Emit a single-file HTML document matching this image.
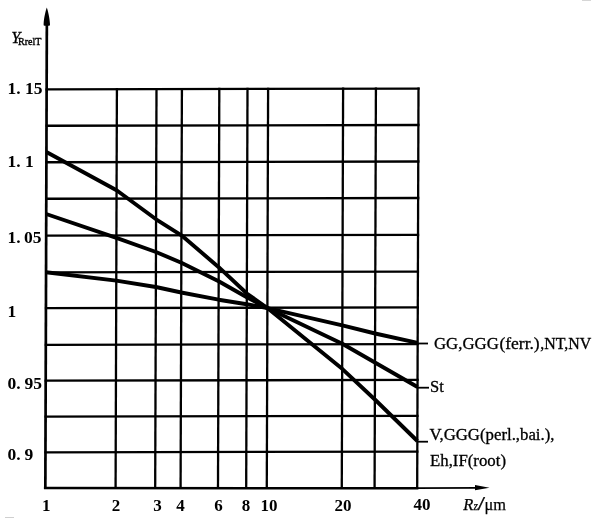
<!DOCTYPE html>
<html><head><meta charset="utf-8"><title>Chart</title>
<style>
html,body{margin:0;padding:0;background:#fff;}
svg{display:block;}
text{font-family:"Liberation Serif",serif;fill:#000;}
.n{font-weight:bold;font-size:17px;}
.l{font-size:16.5px;stroke:#000;stroke-width:0.3px;}
</style></head><body>
<svg width="600" height="518" viewBox="0 0 600 518">
<rect width="600" height="518" fill="#fff"/>
<g transform="matrix(1,-0.002,-0.0033,1,1.6,0.14)" stroke="#000" stroke-width="2.3" fill="none" stroke-linecap="butt">
<line x1="44.3" y1="89.3" x2="418.34999999999997" y2="89.3"/>
<line x1="44.3" y1="125.7" x2="418.34999999999997" y2="125.7"/>
<line x1="44.3" y1="162.2" x2="418.34999999999997" y2="162.2"/>
<line x1="44.3" y1="198.7" x2="418.34999999999997" y2="198.7"/>
<line x1="44.3" y1="235.5" x2="418.34999999999997" y2="235.5"/>
<line x1="44.3" y1="272.3" x2="418.34999999999997" y2="272.3"/>
<line x1="44.3" y1="308.1" x2="418.34999999999997" y2="308.1"/>
<line x1="44.3" y1="344.8" x2="418.34999999999997" y2="344.8"/>
<line x1="44.3" y1="380.6" x2="418.34999999999997" y2="380.6"/>
<line x1="44.3" y1="416.5" x2="418.34999999999997" y2="416.5"/>
<line x1="44.3" y1="452.3" x2="418.34999999999997" y2="452.3"/>
<line x1="115.6" y1="88.14999999999999" x2="115.6" y2="488.3"/>
<line x1="155.2" y1="88.14999999999999" x2="155.2" y2="488.3"/>
<line x1="180.6" y1="88.14999999999999" x2="180.6" y2="488.3"/>
<line x1="218.0" y1="88.14999999999999" x2="218.0" y2="488.3"/>
<line x1="246.2" y1="88.14999999999999" x2="246.2" y2="488.3"/>
<line x1="266.8" y1="88.14999999999999" x2="266.8" y2="488.3"/>
<line x1="341.8" y1="88.14999999999999" x2="341.8" y2="488.3"/>
<line x1="374.6" y1="88.14999999999999" x2="374.6" y2="488.3"/>
<line x1="417.2" y1="88.14999999999999" x2="417.2" y2="488.3"/>
</g>
<line x1="43.9" y1="488.1" x2="418.4" y2="488.2" stroke="#000" stroke-width="2.5"/>
<line x1="417" y1="488.1" x2="477" y2="487.8" stroke="#000" stroke-width="1.7"/>
<line x1="46.85" y1="22" x2="45.35" y2="488.8" stroke="#000" stroke-width="2.7"/>
<path d="M46.8,7.6 C47.8,10 49.7,18 50,24.5 Q50,25.7 49,25.7 L44.6,25.7 Q43.5,25.7 43.6,24.5 C43.9,18 45.8,10 46.8,7.6 Z" fill="#000"/>
<polygon points="489.5,487.7 475,485.1 475,490.3" fill="#000"/>
<g stroke="#000" stroke-width="3.9" fill="none" stroke-linejoin="round">
<polyline points="46.4,152 116.57,190.3 156.08,219.3 181.42,235.3 218.72,267.2 246.83,293.5 267.38,308.1 342.18,368.8 374.88,399.5 417.35,441"/>
<line x1="417.35" y1="441.7" x2="428" y2="441.7" stroke-width="1.8"/>
<polyline points="46.19,214 116.42,237.8 155.97,252 181.33,262.7 218.67,281.3 246.82,297.3 267.38,308.1 342.27,343.8 417.52,387"/>
<line x1="417.52" y1="387.7" x2="429" y2="387.7" stroke-width="1.8"/>
<polyline points="46.0,272.3 116.27,280.6 155.85,287 181.24,292.5 218.61,299.7 246.8,304.2 267.38,308.1 342.33,325.4 375.1,333.5 417.67,342.8"/>
<line x1="417.67" y1="343.5" x2="428" y2="343.5" stroke-width="1.8"/>
</g>
<text class="n" style="font-size:17.5px" x="7.5" y="94.0">1.</text><text class="n" style="font-size:17.5px" x="25" y="94.0">15</text>
<text class="n" style="font-size:17.5px" x="7.5" y="166.5">1.</text><text class="n" style="font-size:17.5px" x="25" y="166.5">1</text>
<text class="n" style="font-size:17.5px" x="7.5" y="242.5">1.</text><text class="n" style="font-size:17.5px" x="24" y="242.5">05</text>
<text class="n" style="font-size:17.5px" x="7.5" y="316.5">1</text>
<text class="n" style="font-size:17.5px" x="7.5" y="388.5">0.</text><text class="n" style="font-size:17.5px" x="24.4" y="388.5">95</text>
<text class="n" style="font-size:17.5px" x="7.5" y="460.0">0.</text><text class="n" style="font-size:17.5px" x="24.4" y="460.0">9</text>
<text class="n" x="46.2" y="510.8" text-anchor="middle">1</text>
<text class="n" x="116" y="510.8" text-anchor="middle">2</text>
<text class="n" x="157.5" y="510.8" text-anchor="middle">3</text>
<text class="n" x="180.6" y="510.8" text-anchor="middle">4</text>
<text class="n" x="218.5" y="510.8" text-anchor="middle">6</text>
<text class="n" x="246" y="510.8" text-anchor="middle">8</text>
<text class="n" x="269" y="510.8" text-anchor="middle">10</text>
<text class="n" x="343" y="510.8" text-anchor="middle">20</text>
<text class="n" x="422" y="510" text-anchor="middle">40</text>
<text x="11.3" y="43.3" font-size="16.5" font-style="italic" stroke="#000" stroke-width="0.3">Y</text><text x="18" y="45.3" font-size="11.2" textLength="23.5" lengthAdjust="spacingAndGlyphs" stroke="#000" stroke-width="0.4">RrelT</text>
<g stroke="#000" stroke-width="0.25"><text x="463.3" y="509.5" font-size="16.5" font-style="italic">R</text><text x="473.6" y="509.5" font-size="11.5" font-style="italic">z</text><text x="477.6" y="510" font-size="19" textLength="7.5" lengthAdjust="spacingAndGlyphs">/</text><text x="484.4" y="509.5" font-size="17.5" textLength="21.5" lengthAdjust="spacingAndGlyphs">μm</text></g>
<text class="l" x="434" y="349.3" textLength="64.8" lengthAdjust="spacingAndGlyphs">GG,GGG</text><text class="l" x="499.4" y="349.3" textLength="40.3" lengthAdjust="spacingAndGlyphs">(ferr.)</text><text class="l" x="540.3" y="349.3" textLength="51" lengthAdjust="spacingAndGlyphs">,NT,NV</text>
<text class="l" x="430" y="392">St</text>
<text class="l" x="429.5" y="439.9" textLength="125" lengthAdjust="spacingAndGlyphs">V,GGG(perl.,bai.),</text>
<text class="l" x="430" y="466.2" textLength="76" lengthAdjust="spacingAndGlyphs">Eh,IF(root)</text>
<rect x="582" y="0" width="9" height="1" fill="#d6d6d6"/><rect x="5" y="517" width="9" height="1" fill="#cfcfcf"/>
</svg>
</body></html>
